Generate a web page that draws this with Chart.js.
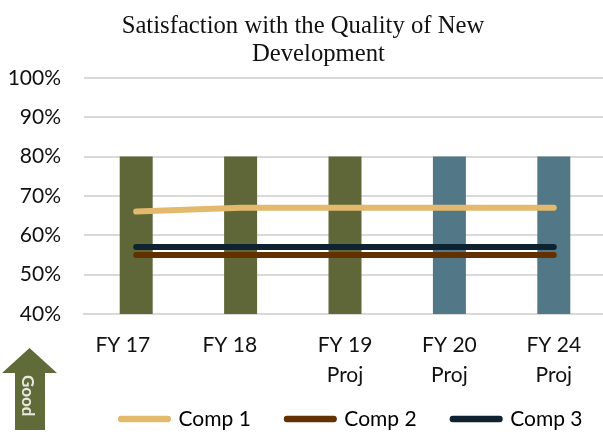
<!DOCTYPE html>
<html>
<head>
<meta charset="utf-8">
<script src="https://cdn.jsdelivr.net/npm/chart.js@4"></script>
<style>
  html, body { margin: 0; background: #fff; overflow: hidden; width: 603px; height: 435px; }
  #wrap { position: relative; width: 603px; height: 435px; overflow: hidden; }
  #arrow { position: absolute; left: 0; top: 345px; }
</style>
</head>
<body>
<div id="wrap">
  <canvas id="chart" width="606" height="435"></canvas>
  <!-- the "Good" arrow sits outside the plot -->
  <svg id="arrow" width="60" height="90">
    <path d="M29.5 3 L57 28 L45 28 L45 85 L15 85 L15 28 L2 28 Z" fill="#5f6b38"/>
    <text transform="translate(22,30) rotate(90)" font-family="Lato" font-weight="bold" font-size="17" fill="#e8e8e0">Good</text>
  </svg>
</div>
<script>
// trailing spaces: the first two labels sit left of their bars in the original
const categories = ['FY 17     ', 'FY 18    ', ['FY 19', 'Proj'], ['FY 20', 'Proj'], ['FY 24', 'Proj']];
const barValues = [80, 80, 80, 80, 80];
const barColors = ['#5f6738', '#5f6738', '#5f6738', '#527887', '#527887'];
const comp1 = [66, 67, 67, 67, 67];
const comp2 = [55, 55, 55, 55, 55];
const comp3 = [57, 57, 57, 57, 57];

function lineSet(label, data, color) {
    return {
        type: 'line',
        label: label,
        data: data,
        borderColor: color,
        backgroundColor: color,
        borderWidth: 6,
        borderCapStyle: 'round',
        pointRadius: 0,
        tension: 0,
        order: 1
    };
}

// legend position can't be set through options, so move it after layout
const moveLegend = {
    id: 'moveLegend',
    afterLayout(chart) {
        chart.legend.left += 48.75;
        chart.legend.right += 48.75;
        chart.legend.top = 372.5;
    }
};

new Chart(document.getElementById('chart'), {
    type: 'bar',
    plugins: [moveLegend],
    data: {
        labels: categories,
        datasets: [
            {
                label: 'Target',
                data: barValues,
                backgroundColor: barColors,
                categoryPercentage: 1,
                barPercentage: 0.316,
                order: 2
            },
            lineSet('Comp 1', comp1, '#e3b96d'),
            lineSet('Comp 2', comp2, '#633000'),
            lineSet('Comp 3', comp3, '#0f2231')
        ]
    },
    options: {
        responsive: false,
        animation: false,
        layout: { padding: { top: 13, bottom: 0, left: 0, right: 0 } },
        plugins: {
            tooltip: { enabled: false },
            title: {
                display: true,
                text: ['Satisfaction with the Quality of New', '     Development'],
                color: '#111',
                font: { family: '"Liberation Serif"', size: 24.7, weight: 'normal', lineHeight: 1.13 },
                padding: { top: 0, bottom: 9 }
            },
            legend: {
                position: 'bottom',
                maxHeight: 36.3,
                labels: {
                    font: { family: 'Lato', size: 21 },
                    color: '#111',
                    boxWidth: 47,
                    boxHeight: 0.5,
                    padding: 36,
                    // stroke with round joins so the swatch looks like the line
                    generateLabels(chart) {
                        return chart.data.datasets.slice(1).map((ds, i) => ({
                            text: ds.label,
                            fillStyle: ds.borderColor,
                            strokeStyle: ds.borderColor,
                            lineWidth: 6,
                            lineJoin: 'round',
                            datasetIndex: i + 1
                        }));
                    }
                }
            }
        },
        scales: {
            x: {
                grid: { display: false },
                border: { color: '#d9d9d9', width: 2 },
                ticks: {
                    color: '#111',
                    padding: 9,
                    maxRotation: 0,
                    autoSkip: false,
                    font: { family: 'Lato', size: 21, lineHeight: 1.4 }
                }
            },
            y: {
                min: 40,
                max: 100,
                afterFit(scale) { scale.width = 84; },
                grid: { color: '#d9d9d9', lineWidth: 2, drawTicks: false },
                border: { display: false },
                ticks: {
                    stepSize: 10,
                    autoSkip: false,
                    color: '#111',
                    padding: 23,
                    font: { family: 'Lato', size: 21 },
                    callback: v => v + '%'
                }
            }
        }
    }
});
</script>
</body>
</html>
